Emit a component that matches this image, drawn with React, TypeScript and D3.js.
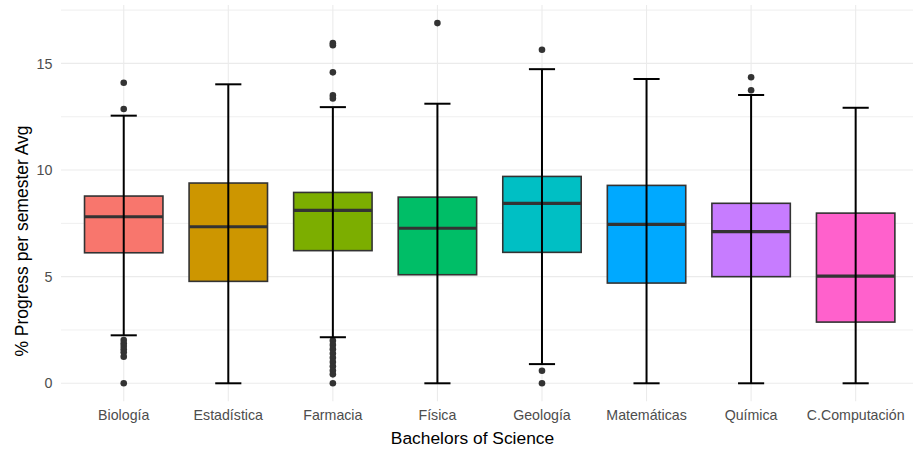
import React from "react";
import * as d3 from "d3";

const categories = ["Biología", "Estadística", "Farmacia", "Física", "Geología", "Matemáticas", "Química", "C.Computación"];
const colors = ["#F8766D", "#CD9600", "#7CAE00", "#00BE67", "#00BFC4", "#00A9FF", "#C77CFF", "#FF61CC"];
const q1 = [6.12, 4.78, 6.22, 5.09, 6.14, 4.7, 5.0, 2.87];
const medians = [7.81, 7.34, 8.11, 7.27, 8.44, 7.45, 7.11, 5.03];
const q3 = [8.78, 9.39, 8.95, 8.73, 9.7, 9.28, 8.44, 7.98];
const whiskerLow = [2.25, 0, 2.16, 0, 0.9, 0, 0, 0];
const whiskerHigh = [12.55, 14.02, 12.95, 13.11, 14.73, 14.27, 13.52, 12.92];
const outliers: number[][] = [
  [14.09, 12.86, 2.03, 1.88, 1.75, 1.6, 1.45, 1.25, 0],
  [],
  [15.95, 15.85, 14.58, 13.5, 13.36, 2.0, 1.8, 1.6, 1.4, 1.2, 1.0, 0.8, 0.6, 0.42, 0],
  [16.89],
  [15.64, 0.59, 0],
  [],
  [14.35, 13.74],
  [],
];
const yTicks = [0, 5, 10, 15];
const yMinor = [2.5, 7.5, 12.5, 17.5];

const W = 913;
const H = 454;
const panel = { left: 61, right: 918.4, top: 5.1, bottom: 401.3 };
const FONT = "'Liberation Sans', Arial, Helvetica, sans-serif";

export default function App() {
  const x = d3.scalePoint<string>().domain(categories).range([panel.left, panel.right]).padding(0.6);
  const step = x.step();
  const maxVal = 16.89;
  const minVal = 0;
  const pad = (maxVal - minVal) * 0.05;
  const y = d3.scaleLinear().domain([minVal - pad, maxVal + pad]).range([panel.bottom, panel.top]);
  const boxW = step * 0.75;
  const capW = step * 0.25;

  return (
    <svg width={W} height={H} style={{ position: "absolute", left: 0, top: 0, background: "#fff" }} fontFamily={FONT}>
      {/* grid */}
      {yMinor.map((v) => (
        <line key={"mn" + v} x1={panel.left} x2={W} y1={y(v)} y2={y(v)} stroke="#ebebeb" strokeWidth={0.8} />
      ))}
      {yTicks.map((v) => (
        <line key={"mj" + v} x1={panel.left} x2={W} y1={y(v)} y2={y(v)} stroke="#ebebeb" strokeWidth={1.1} />
      ))}
      {categories.map((c) => (
        <line key={"vg" + c} x1={x(c)} x2={x(c)} y1={panel.top} y2={panel.bottom} stroke="#ebebeb" strokeWidth={1.1} />
      ))}
      {/* boxes */}
      {categories.map((c, i) => {
        const cx = x(c) as number;
        return (
          <g key={"b" + c}>
            <rect x={cx - boxW / 2} y={y(q3[i])} width={boxW} height={y(q1[i]) - y(q3[i])} fill={colors[i]} stroke="#333333" strokeWidth={1.6} />
            <line x1={cx - boxW / 2} x2={cx + boxW / 2} y1={y(medians[i])} y2={y(medians[i])} stroke="#333333" strokeWidth={3.2} />
          </g>
        );
      })}
      {/* outliers */}
      {categories.map((c, i) =>
        outliers[i].map((v, j) => <circle key={"o" + i + "_" + j} cx={x(c)} cy={y(v)} r={3.3} fill="#333333" />)
      )}
      {/* error bars */}
      {categories.map((c, i) => {
        const cx = x(c) as number;
        return (
          <g key={"e" + c} stroke="#000" strokeWidth={2}>
            <line x1={cx} x2={cx} y1={y(whiskerLow[i])} y2={y(whiskerHigh[i])} />
            <line x1={cx - capW / 2} x2={cx + capW / 2} y1={y(whiskerLow[i])} y2={y(whiskerLow[i])} />
            <line x1={cx - capW / 2} x2={cx + capW / 2} y1={y(whiskerHigh[i])} y2={y(whiskerHigh[i])} />
          </g>
        );
      })}
      {/* y tick labels */}
      {yTicks.map((v) => (
        <text key={"yt" + v} x={52.5} y={y(v)} dy="0.36em" textAnchor="end" fontSize={14.3} fill="#4d4d4d">
          {v}
        </text>
      ))}
      {/* x tick labels */}
      {categories.map((c) => (
        <text key={"xt" + c} x={x(c)} y={420} textAnchor="middle" fontSize={14.2} fill="#4d4d4d">
          {c}
        </text>
      ))}
      <text x={472.5} y={444.2} textAnchor="middle" fontSize={17.4} fill="#000">
        Bachelors of Science
      </text>
      <text transform="translate(27.6,241) rotate(-90)" textAnchor="middle" fontSize={17.5} fill="#000">
        % Progress per semester Avg
      </text>
    </svg>
  );
}
